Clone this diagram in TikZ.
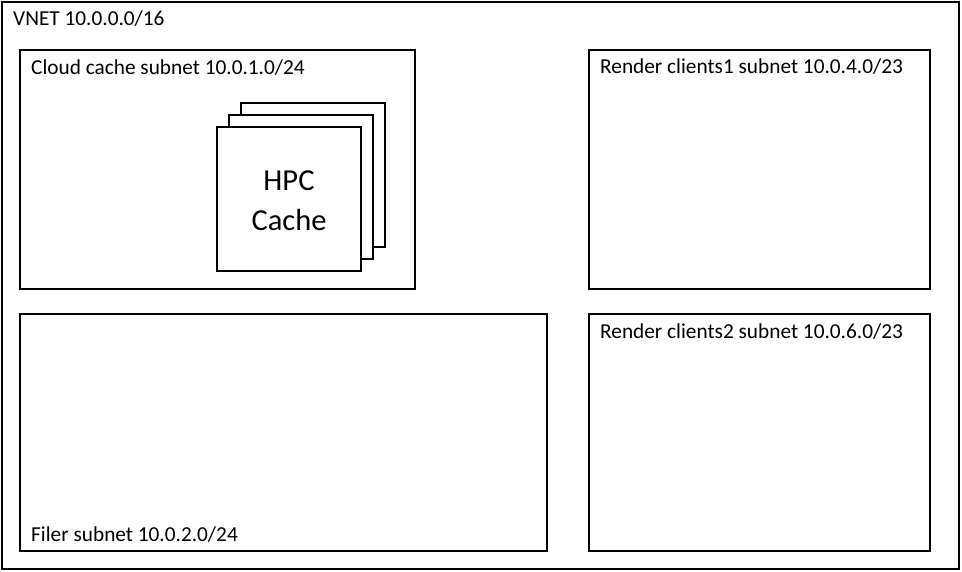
\documentclass[tikz,border=0pt]{standalone}
\usepackage{fontspec}
\setmainfont{Carlito}
\begin{document}
\begin{tikzpicture}[x=1pt,y=-1pt,
  frame/.style={draw=black,line width=1.7pt,fill=none,rectangle,inner sep=0pt,outer sep=0pt,anchor=north west},
  cachebox/.style={draw=black,line width=1.7pt,fill=white,rectangle,inner sep=0pt,outer sep=0pt,anchor=north west,minimum width=144pt,minimum height=144pt},
  lbl/.style={anchor=base west,inner sep=0pt,font=\fontsize{21.3}{25}\selectfont},
  big/.style={anchor=base,inner sep=0pt,font=\fontsize{30.5}{36}\selectfont}]
\useasboundingbox (0,0) rectangle (962,572);
% outer VNET box
\node[frame,line width=2pt,minimum width=957pt,minimum height=567pt] (vnet) at (2,2) {};
\node[lbl] (vnettxt) at (13,26) {VNET 10.0.0.0/16};
% subnets
\node[frame,minimum width=395pt,minimum height=239pt] (cloud) at (20,50) {};
\node[lbl] (cloudtxt) at (31,75) {Cloud cache subnet 10.0.1.0/24};
\node[frame,minimum width=341pt,minimum height=239pt] (r1) at (589,50) {};
\node[lbl] (r1txt) at (600,74) {Render clients1 subnet 10.0.4.0/23};
\node[frame,minimum width=527pt,minimum height=237pt] (filer) at (20,314) {};
\node[lbl] (filertxt) at (31,541) {Filer subnet 10.0.2.0/24};
\node[frame,minimum width=341pt,minimum height=237pt] (r2) at (589,314) {};
\node[lbl] (r2txt) at (600,338) {Render clients2 subnet 10.0.6.0/23};
% HPC cache stack
\node[cachebox] (back) at (241,103) {};
\node[cachebox] (middle) at (229,115) {};
\node[cachebox] (front) at (217,127) {};
\node[big] (hpc) at (289,191) {HPC};
\node[big] (cache) at (289,231) {Cache};
\end{tikzpicture}
\end{document}
